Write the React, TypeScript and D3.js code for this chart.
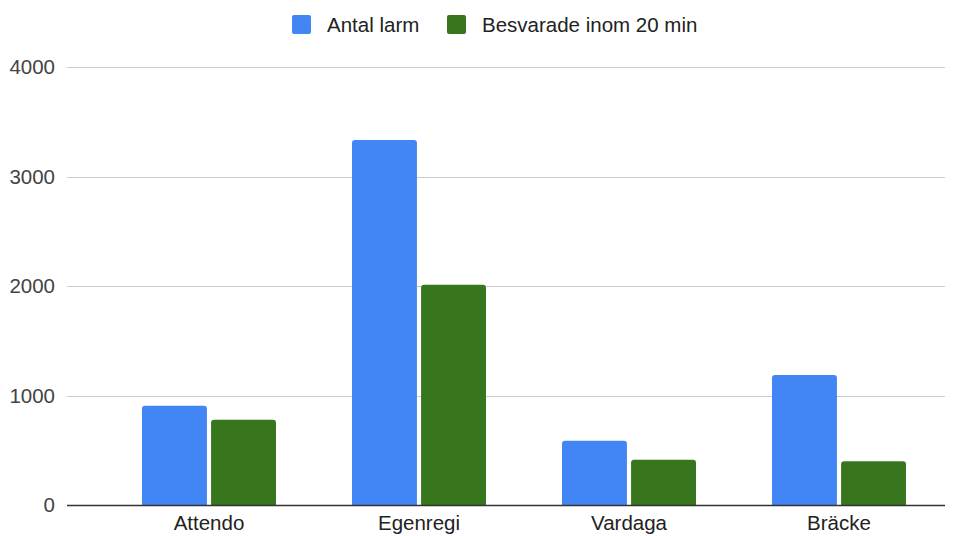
import * as d3 from 'd3';
import { useEffect, useRef } from 'react';

const categories = ['Attendo', 'Egenregi', 'Vardaga', 'Bräcke'];
const seriesNames = ['Antal larm', 'Besvarade inom 20 min'];
const antalLarm = [907, 3333, 587, 1187];
const besvarade = [779, 2012, 414, 399];
const yTicks = [0, 1000, 2000, 3000, 4000];
const colors = ['#4285f4', '#38761d'];

const App = () => {
  const svgRef = useRef<SVGSVGElement | null>(null);

  useEffect(() => {
    if (!svgRef.current) return;

    const width = 972;
    const height = 536;
    const font = 'Arial, "Liberation Sans", sans-serif';
    const fontSize = '20.5px';

    const svg = d3.select(svgRef.current)
      .html('')
      .attr('width', width)
      .attr('height', height)
      .style('font-family', font);

    const plotLeft = 67;
    const plotRight = 945;
    const plotTop = 67;
    const plotBottom = 505;

    const yScale = d3.scaleLinear()
      .domain([0, 4000])
      .range([plotBottom, plotTop]);

    const xScale = d3.scaleBand<string>()
      .domain(categories)
      .range([104, 944])
      .paddingInner(0.362)
      .paddingOuter(0.181);

    const xSub = d3.scaleBand<number>()
      .domain([0, 1])
      .range([0, xScale.bandwidth()])
      .paddingInner(0.06);

    // gridlines
    svg.append('g')
      .selectAll('line')
      .data(yTicks.filter(t => t > 0))
      .enter().append('line')
      .attr('x1', plotLeft)
      .attr('x2', plotRight)
      .attr('y1', d => Math.round(yScale(d)) + 0.5)
      .attr('y2', d => Math.round(yScale(d)) + 0.5)
      .attr('stroke', '#cccccc')
      .attr('stroke-width', 1);

    // y tick labels
    svg.append('g')
      .selectAll('text')
      .data(yTicks)
      .enter().append('text')
      .attr('x', 55)
      .attr('y', d => yScale(d))
      .attr('dy', '0.35em')
      .attr('text-anchor', 'end')
      .attr('fill', '#444')
      .style('font-size', fontSize)
      .text(d => d);

    // bars with rounded tops
    const series = [antalLarm, besvarade];
    const r = 3;
    const barPath = (x: number, w: number, y: number, bottom: number) => {
      const rr = Math.min(r, (bottom - y) / 2);
      return `M${x},${bottom}V${y + rr}Q${x},${y} ${x + rr},${y}H${x + w - rr}Q${x + w},${y} ${x + w},${y + rr}V${bottom}Z`;
    };

    const groups = svg.append('g')
      .selectAll('g')
      .data(categories)
      .enter().append('g')
      .attr('transform', d => `translate(${xScale(d)},0)`);

    groups.selectAll('path')
      .data((c, ci) => series.map((s, si) => ({ si, value: s[ci] })))
      .enter().append('path')
      .attr('d', d => barPath(xSub(d.si)!, xSub.bandwidth(), yScale(d.value), plotBottom))
      .attr('fill', d => colors[d.si]);

    // baseline
    svg.append('line')
      .attr('x1', plotLeft)
      .attr('x2', plotRight)
      .attr('y1', plotBottom + 0.5)
      .attr('y2', plotBottom + 0.5)
      .attr('stroke', '#333')
      .attr('stroke-width', 1.5);

    // x labels
    svg.append('g')
      .selectAll('text')
      .data(categories)
      .enter().append('text')
      .attr('x', d => xScale(d)! + xScale.bandwidth() / 2)
      .attr('y', 530)
      .attr('text-anchor', 'middle')
      .attr('fill', '#222')
      .style('font-size', fontSize)
      .text(d => d);

    // legend
    const legendX = [292, 447];
    const legend = svg.append('g');
    seriesNames.forEach((name, i) => {
      legend.append('rect')
        .attr('x', legendX[i])
        .attr('y', 15)
        .attr('width', 19)
        .attr('height', 19)
        .attr('rx', 2)
        .attr('fill', colors[i]);
      legend.append('text')
        .attr('x', legendX[i] + 35)
        .attr('y', 32)
        .attr('fill', '#222')
        .style('font-size', fontSize)
        .text(name);
    });
  }, []);

  return <svg ref={svgRef} style={{ position: 'absolute', left: 0, top: 0 }} />;
};

export default App;
